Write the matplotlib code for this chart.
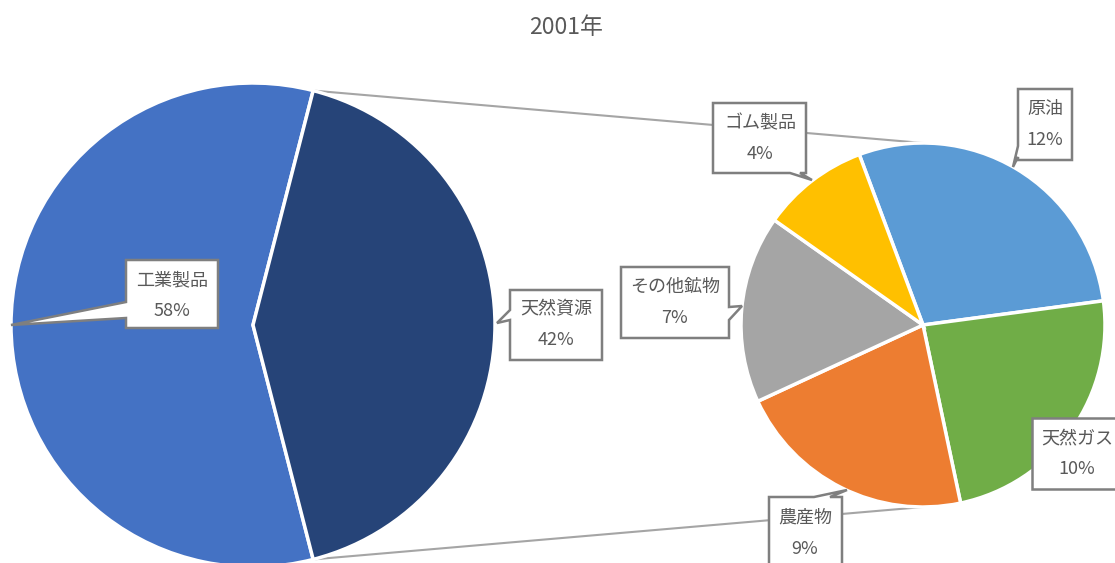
import matplotlib
matplotlib.use("Agg")
import matplotlib.pyplot as plt
from matplotlib.patches import Polygon
import numpy as np

plt.rcParams["font.family"] = ["Noto Sans CJK JP", "DejaVu Sans"]

W, H = 1115, 563

title = "2001年"

# main pie
main_labels = ["工業製品", "天然資源"]
main_values = [58, 42]
main_colors = ["#4472C4", "#264478"]

# breakdown of 天然資源
sub_labels = ["原油", "天然ガス", "農産物", "その他鉱物", "ゴム製品"]
sub_values = [12, 10, 9, 7, 4]
sub_colors = ["#5B9BD5", "#70AD47", "#ED7D31", "#A5A5A5", "#FFC000"]

TEXT = "#595959"
BORDER = "#7f7f7f"

# layout in pixel coords (y down)
main_c, main_r = (253, 325), 242
sub_c, sub_r = (923, 325), 182
sub_start = 110.5


def fy(y):
    return H - y


def callout(ax, box, side=None, a=None, b=None, tip=None):
    x0, y0, x1, y1 = box
    pts = [(x0, y0)]
    if side == "top":
        pts += [(a, y0), tip, (b, y0)]
    pts.append((x1, y0))
    if side == "right":
        pts += [(x1, a), tip, (x1, b)]
    pts.append((x1, y1))
    if side == "bottom":
        pts += [(b, y1), tip, (a, y1)]
    pts.append((x0, y1))
    if side == "left":
        pts += [(x0, b), tip, (x0, a)]
    pts = [(x, fy(y)) for x, y in pts]
    ax.add_patch(Polygon(pts, closed=True, facecolor="white", edgecolor=BORDER,
                         linewidth=1.8, zorder=4, joinstyle="miter"))


fig = plt.figure(figsize=(W / 100, H / 100), dpi=100)
ax = fig.add_axes([0, 0, 1, 1])

wp = dict(edgecolor="white", linewidth=2.5)
main_start = -main_values[1] / sum(main_values) * 360 / 2
ax.pie(main_values, colors=main_colors, startangle=main_start, counterclock=False,
       center=(main_c[0], fy(main_c[1])), radius=main_r, wedgeprops=wp)
ax.pie(sub_values, colors=sub_colors, startangle=sub_start, counterclock=False,
       center=(sub_c[0], fy(sub_c[1])), radius=sub_r, wedgeprops=wp)

# connector lines from the 天然資源 wedge to the secondary pie
half = np.deg2rad(main_values[1] / sum(main_values) * 360 / 2)
for sgn in (1, -1):
    x_a = main_c[0] + main_r * np.cos(half)
    y_a = fy(main_c[1]) + sgn * main_r * np.sin(half)
    x_b = sub_c[0]
    y_b = fy(sub_c[1]) + sgn * sub_r
    ax.plot([x_a, x_b], [y_a, y_b], color="#a5a5a5", linewidth=1.5, zorder=0)

# callouts
boxes = {
    "工業製品": dict(box=(126, 260, 218, 328), side="left", a=302, b=318, tip=(11, 325)),
    "天然資源": dict(box=(510, 290, 602, 360), side="left", a=310, b=320, tip=(497, 323)),
    "その他鉱物": dict(box=(621, 267, 729, 338), side="right", a=307, b=320, tip=(742, 306)),
    "ゴム製品": dict(box=(713, 103, 806, 173), side="bottom", a=790, b=800, tip=(812, 180)),
    "原油": dict(box=(1018, 89, 1072, 160), side="left", a=146, b=157, tip=(1013, 167)),
    "天然ガス": dict(box=(1032, 418, 1125, 489)),
    "農産物": dict(box=(769, 497, 842, 580), side="top", a=814, b=830, tip=(847, 490)),
}
text_pos = {
    "工業製品": (172, 280), "天然資源": (556, 309), "その他鉱物": (675, 287),
    "ゴム製品": (760, 123), "原油": (1045, 109), "天然ガス": (1077, 438),
    "農産物": (805, 518),
}

all_vals = dict(zip(main_labels, main_values))
all_vals.update(zip(sub_labels, sub_values))
for name, spec in boxes.items():
    callout(ax, **spec)
    tx, ty = text_pos[name]
    ax.text(tx, fy(ty), name, ha="center", va="center", fontsize=13,
            color=TEXT, zorder=5)
    ax.text(tx, fy(ty + 31), f"{all_vals[name]}%", ha="center", va="center",
            fontsize=13, color=TEXT, zorder=5)

ax.text(566, fy(28), title, ha="center", va="center", fontsize=16.5, color=TEXT)

ax.set_xlim(0, W)
ax.set_ylim(0, H)
ax.set_aspect("auto")
ax.axis("off")

fig.savefig("out.png", dpi=100)
